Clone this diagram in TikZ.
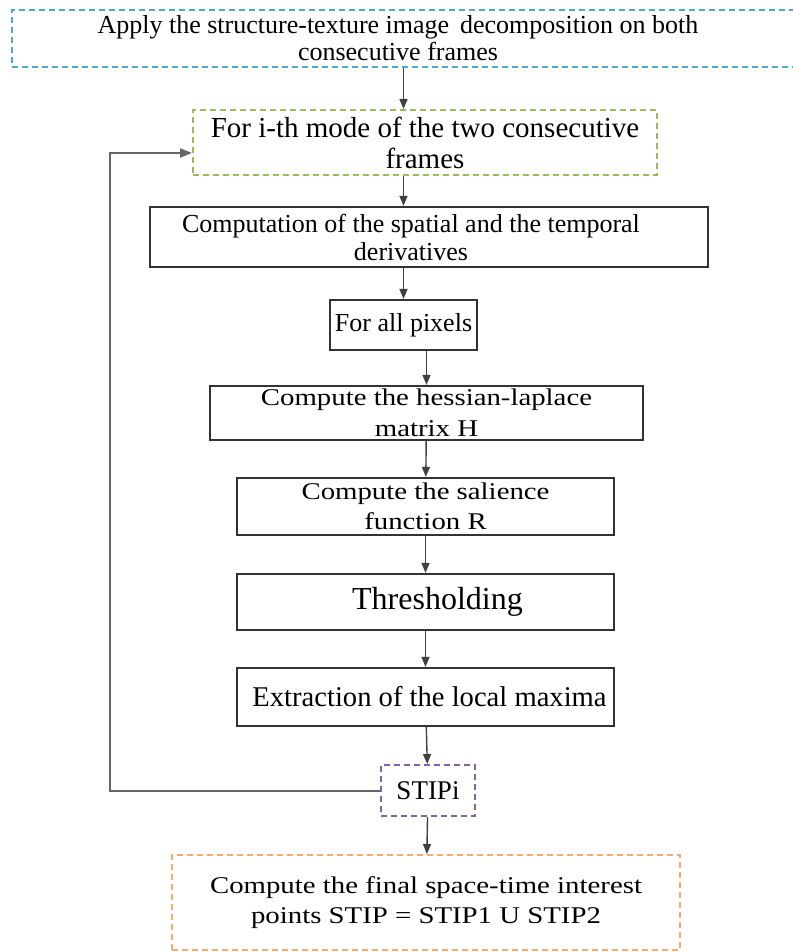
\documentclass[tikz,border=0pt]{standalone}
\usepackage{fontspec}
\setmainfont{Liberation Serif}
\newfontfamily\widefont{Liberation Serif}[FakeStretch=1.2]
\usetikzlibrary{arrows.meta}
\definecolor{aqua}{HTML}{4BACC6}
\definecolor{olive}{HTML}{9BBB59}
\definecolor{lilac}{HTML}{8064A2}
\definecolor{peach}{HTML}{F79646}
\begin{document}
\begin{tikzpicture}[x=1pt, y=-1pt,
  box/.style={draw=black!80, line width=2.2pt, rectangle, align=center, inner sep=0pt},
  dbox/.style={box, line width=2pt, dash pattern=on 6pt off 4pt},
  arr/.style={draw=black!75, line width=1.4pt, -{Triangle[length=10pt,width=8pt]}},
  back/.style={draw=black!60, line width=2pt, -{Triangle[length=12pt,width=9pt]}}]
  \useasboundingbox (0,0) rectangle (792,952);
  \node[dbox, draw=aqua, minimum width=788, minimum height=57, font=\fontsize{26}{27}\selectfont] (apply) at (406,38.5)
    {\hspace*{-16pt}Apply the structure-texture image\, decomposition on both\\ \hspace*{-16pt}consecutive frames};
  \node[dbox, draw=olive, minimum width=464, minimum height=65, font=\fontsize{29}{31}\selectfont] (mode) at (425,142.5)
    {For i-th mode of the two consecutive\\ frames};
  \node[box, minimum width=558, minimum height=60, font=\fontsize{26}{28}\selectfont] (deriv) at (429,237)
    {\hspace*{-36pt}Computation of the spatial and the temporal\\ \hspace*{-36pt}derivatives};
  \node[box, minimum width=147, minimum height=50, font=\fontsize{26}{28}\selectfont] (pix) at (403.5,325) {For all pixels};
  \node[box, minimum width=433, minimum height=54, font=\widefont\fontsize{24}{31}\selectfont] (hess) at (426.5,413)
    {Compute the hessian-laplace\\ matrix H};
  \node[box, minimum width=377, minimum height=57, font=\widefont\fontsize{24}{30}\selectfont] (sal) at (425.5,506.5)
    {Compute the salience\\ function R};
  \node[box, minimum width=377, minimum height=56, font=\fontsize{32}{34}\selectfont] (thr) at (425.5,602) {\hspace*{24pt}Thresholding};
  \node[box, minimum width=377, minimum height=58, font=\fontsize{28.6}{30}\selectfont] (ext) at (425.5,697) {\hspace*{8pt}Extraction of the local maxima};
  \node[dbox, draw=lilac, minimum width=94, minimum height=51, font=\fontsize{27}{29}\selectfont] (stip) at (428,790.5) {STIPi};
  \node[dbox, draw=peach!80, minimum width=508, minimum height=95, font=\widefont\fontsize{24}{30}\selectfont] (final) at (426,902.5)
    {Compute the final space-time interest\\ points STIP = STIP1 U STIP2};
  \coordinate (corner) at (110,790.5);

  \draw[arr] (apply.south -| pix) -- (mode.north -| pix);
  \draw[arr] (mode.south -| pix) -- (deriv.north -| pix);
  \draw[arr] (deriv.south -| pix) -- (pix);
  \draw[arr] (pix.south -| hess) -- (hess);
  \draw[arr] (hess) -- (sal);
  \draw[arr] (sal) -- (thr);
  \draw[arr] (thr) -- (ext);
  \draw[arr] (ext) -- (stip);
  \draw[arr] (stip) -- (final);
  \draw[back] (stip.west) -- (corner) |- ([yshift=-10.5pt]mode.west);
\end{tikzpicture}
\end{document}
